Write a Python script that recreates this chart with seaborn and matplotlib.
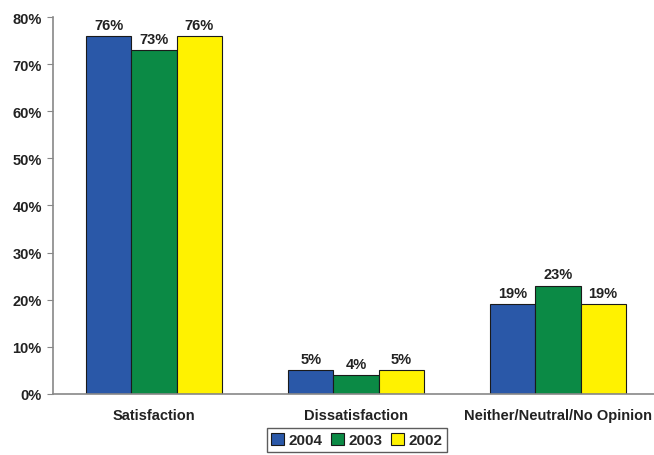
import matplotlib
matplotlib.use("Agg")
import matplotlib.pyplot as plt
import seaborn as sns
import pandas as pd

categories = ["Satisfaction", "Dissatisfaction", "Neither/Neutral/No Opinion"]
years = ["2004", "2003", "2002"]
values_2004 = [76, 5, 19]
values_2003 = [73, 4, 23]
values_2002 = [76, 5, 19]
yticks = [0, 10, 20, 30, 40, 50, 60, 70, 80]
colors = ["#2a58a8", "#0b8a45", "#fff200"]

rows = []
for year, vals in zip(years, [values_2004, values_2003, values_2002]):
    for cat, v in zip(categories, vals):
        rows.append({"category": cat, "year": year, "value": v})
df = pd.DataFrame(rows)

sns.set_style("white")
plt.rcParams["font.family"] = ["Liberation Sans", "DejaVu Sans"]

fig = plt.figure(figsize=(6.54, 4.56), dpi=100)
ax = fig.add_axes([0.081, 0.134, 0.919, 0.8265])

sns.barplot(data=df, x="category", y="value", hue="year", order=categories,
            hue_order=years, palette=colors, width=0.67, gap=0,
            edgecolor="#1a1a1a", linewidth=0.8, saturation=1, ax=ax,
            errorbar=None, legend=True)

for container in ax.containers:
    ax.bar_label(container, labels=[f"{int(round(v))}%" for v in container.datavalues],
                 padding=3, fontsize=10.5, fontweight="bold", color="#222222")

ax.set_ylim(0, 80)
ax.set_xlim(-0.5, 2.475)
ax.set_yticks(yticks)
ax.set_yticklabels([f"{t}%" for t in yticks], fontsize=10.5, fontweight="bold", color="#222222")
ax.set_xticks(range(len(categories)))
ax.set_xticklabels(categories, fontsize=10.5, fontweight="bold", color="#222222")
ax.set_xticks([0.5, 1.5], minor=True)
ax.tick_params(axis="x", which="major", length=0, pad=10)
ax.tick_params(axis="x", which="minor", length=4, color="#888888", direction="out")
ax.tick_params(axis="y", length=4, color="#888888", direction="out", pad=4, left=True)
ax.set_xlabel("")
ax.set_ylabel("")

for s in ["top", "right"]:
    ax.spines[s].set_visible(False)
for s in ["left", "bottom"]:
    ax.spines[s].set_color("#888888")
    ax.spines[s].set_linewidth(1.2)

ax.legend_.remove()
handles = [plt.Rectangle((0, 0), 1, 1, facecolor=c, edgecolor="#1a1a1a", linewidth=0.8) for c in colors]
leg = fig.legend(handles, years, loc="lower center", bbox_to_anchor=(0.546, -0.01), ncol=3,
                 frameon=True, fancybox=False, edgecolor="#333333",
                 prop={"size": 11, "weight": "bold"}, handlelength=0.85, handleheight=0.85,
                 handletextpad=0.3, columnspacing=0.55, borderpad=0.3)
leg.get_frame().set_linewidth(1.0)

fig.savefig("out.png", dpi=100)
